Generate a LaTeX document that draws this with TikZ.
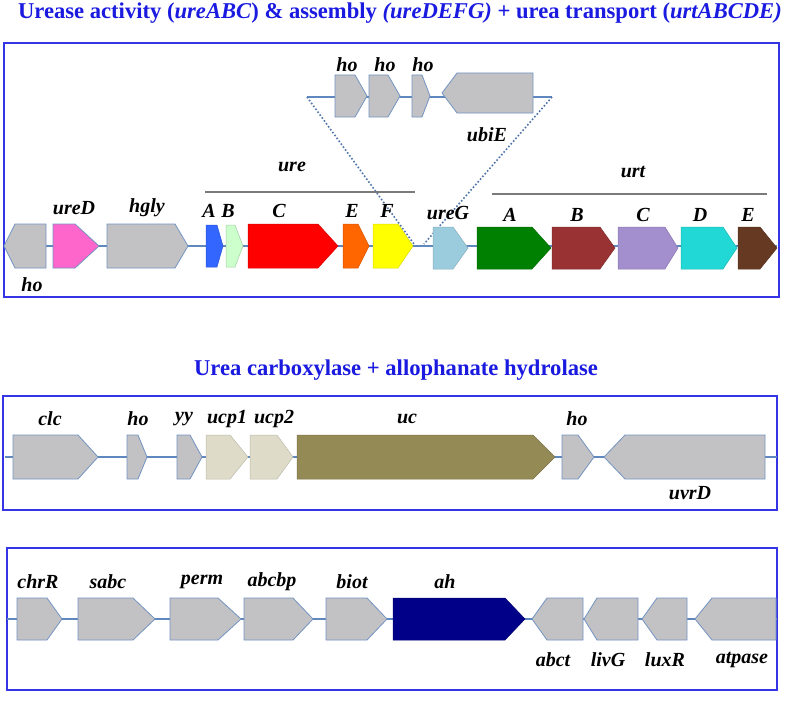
\documentclass[tikz,border=0pt]{standalone}
\usepackage{fontspec}
\setmainfont{Liberation Serif}
\definecolor{boxblue}{HTML}{3535E6}
\definecolor{titleblue}{HTML}{1A1AE0}
\definecolor{spine}{HTML}{5F88BE}
\definecolor{gedge}{HTML}{7393C2}
\definecolor{ggray}{HTML}{C2C2C4}
\definecolor{dotc}{HTML}{4F74AA}
\definecolor{brk}{HTML}{7A7A7A}
\definecolor{cpink}{HTML}{FF66CC}
\definecolor{cblueA}{HTML}{3366FF}
\definecolor{cgreenB}{HTML}{CCFFCC}
\definecolor{credC}{HTML}{FF0000}
\definecolor{corE}{HTML}{FF6600}
\definecolor{cyelF}{HTML}{FFFF00}
\definecolor{cureG}{HTML}{9BCCDE}
\definecolor{curtA}{HTML}{008000}
\definecolor{curtB}{HTML}{993333}
\definecolor{curtC}{HTML}{A38ECE}
\definecolor{curtD}{HTML}{22D8D6}
\definecolor{curtE}{HTML}{663A22}
\definecolor{cucp}{HTML}{DEDBC8}
\definecolor{cuc}{HTML}{938A55}
\definecolor{cah}{HTML}{000088}
\newcommand{\geneR}[6]{\path[#6] ({#1},{#4-#5}) -- ({#2},{#4-#5}) -- ({#3},{#4}) -- ({#2},{#4+#5}) -- ({#1},{#4+#5}) -- cycle;}
\newcommand{\geneL}[6]{\path[#6] ({#1},{#4}) -- ({#2},{#4-#5}) -- ({#3},{#4-#5}) -- ({#3},{#4+#5}) -- ({#2},{#4+#5}) -- cycle;}
\tikzset{
  gbox/.style={draw=boxblue, line width=1.6pt},
  spineline/.style={draw=spine, line width=1.6pt},
  grey/.style={fill=ggray, draw=gedge, line width=0.8pt},
  col/.style={fill=#1, draw=#1!85!black, line width=0.5pt},
  lab/.style={font=\fontsize{20}{20}\selectfont\bfseries\itshape, inner sep=0pt},
  ttl/.style={font=\fontsize{22.6}{22.6}\selectfont\bfseries, text=titleblue, inner sep=0pt},
  dotl/.style={draw=dotc, line width=1.6pt, dotted},
  brkline/.style={draw=brk, line width=1.6pt},
}
\begin{document}
\begin{tikzpicture}[x=1pt, y=-1pt]
\useasboundingbox (0,0) rectangle (787,701);
\fill[white] (0,0) rectangle (787,701);
% titles
\node[ttl] (t1) at (400,13) {Urease activity (\textit{ureABC}) \& assembly \textit{(ureDEFG)} + urea transport (\textit{urtABCDE)}};
\node[ttl] (t2) at (396,370) {Urea carboxylase + allophanate hydrolase};
% boxes
\draw[gbox] (4,43) rectangle (779,297);
\draw[gbox] (3,396) rectangle (777,510);
\draw[gbox] (7,548) rectangle (777,690);
% ---------- box 1 ----------
\coordinate (s1a) at (4,246); \coordinate (s1b) at (777,246);
\draw[spineline] (s1a) -- (s1b);
\coordinate (s0a) at (307,97); \coordinate (s0b) at (552,97);
\draw[spineline] (s0a) -- (s0b);
\coordinate (d1) at (414,244); \coordinate (d2) at (424,244);
\draw[dotl] (s0a) -- (d1);
\draw[dotl] (s0b) -- (d2);
\geneL{4}{15}{46}{246}{22}{grey}
\geneR{53}{75}{99}{246}{22}{fill=cpink, draw=gedge, line width=0.8pt}
\geneR{107}{175}{188}{246}{22}{grey}
\geneR{206}{217}{223}{246}{21}{col=cblueA}
\geneR{226}{235}{243}{246}{21}{fill=cgreenB, draw=cgreenB!80!black, line width=0.5pt}
\geneR{248}{318}{338}{246}{22}{col=credC}
\geneR{343}{358}{369}{246}{22}{col=corE}
\geneR{373}{398}{413}{246}{22}{col=cyelF}
\geneR{433}{453}{468}{248}{21}{col=cureG}
\geneR{477}{532}{551}{248}{21}{col=curtA}
\geneR{552}{600}{615}{248}{21}{col=curtB}
\geneR{618}{665}{678}{248}{21}{col=curtC}
\geneR{681}{723}{737}{248}{21}{col=curtD}
\geneR{738}{760}{777}{248}{21}{col=curtE}
% inset
\geneR{335}{355}{367}{96}{21}{grey}
\geneR{369}{388}{400}{96}{21}{grey}
\geneR{412}{422}{430}{96}{21}{grey}
\geneL{442}{457}{533}{93}{20}{grey}
% brackets
\coordinate (b1a) at (205,192); \coordinate (b1b) at (415,192);
\draw[brkline] (b1a) -- (b1b);
\coordinate (b2a) at (492,194); \coordinate (b2b) at (767,194);
\draw[brkline] (b2a) -- (b2b);
\node[lab] (l_ure) at (292,167) {ure};
\node[lab] (l_urt) at (633,172) {urt};
% labels box1
\node[lab] (l_ho1) at (32,285) {ho};
\node[lab] (l_ureD) at (74,208) {ureD};
\node[lab] (l_hgly) at (147,208) {hgly};
\node[lab] (l_A) at (209,211) {A};
\node[lab] (l_B) at (228,211) {B};
\node[lab] (l_C) at (279,211) {C};
\node[lab] (l_E) at (352,211) {E};
\node[lab] (l_F) at (387,211) {F};
\node[lab] (l_ureG) at (448,213) {ureG};
\node[lab] (l_tA) at (510,215) {A};
\node[lab] (l_tB) at (577,215) {B};
\node[lab] (l_tC) at (643,215) {C};
\node[lab] (l_tD) at (700,215) {D};
\node[lab] (l_tE) at (748,215) {E};
\node[lab] (l_ih1) at (347,65) {ho};
\node[lab] (l_ih2) at (385,65) {ho};
\node[lab] (l_ih3) at (423,65) {ho};
\node[lab] (l_ubiE) at (487,135) {ubiE};
% ---------- box 2 ----------
\coordinate (s2a) at (5,457); \coordinate (s2b) at (777,457);
\draw[spineline] (s2a) -- (s2b);
\geneR{13}{78}{98}{457}{22}{grey}
\geneR{127}{138}{147}{457}{22}{grey}
\geneR{177}{190}{202}{457}{22}{grey}
\geneR{206}{230}{248}{457}{22}{col=cucp}
\geneR{250}{277}{293}{457}{22}{col=cucp}
\geneR{297}{533}{555}{457}{22}{col=cuc}
\geneR{562}{578}{594}{457}{22}{grey}
\geneL{604}{625}{765}{457}{22}{grey}
\node[lab] (l_clc) at (50,419) {clc};
\node[lab] (l_ho2) at (138,419) {ho};
\node[lab] (l_yy) at (184,419) {yy};
\node[lab] (l_ucp1) at (227,419) {ucp1};
\node[lab] (l_ucp2) at (274,419) {ucp2};
\node[lab] (l_uc) at (407,419) {uc};
\node[lab] (l_ho3) at (577,419) {ho};
\node[lab] (l_uvrD) at (690,493) {uvrD};
% ---------- box 3 ----------
\coordinate (s3a) at (7,619); \coordinate (s3b) at (777,619);
\draw[spineline] (s3a) -- (s3b);
\geneR{17}{47}{62}{619}{21}{grey}
\geneR{78}{133}{155}{619}{21}{grey}
\geneR{170}{218}{241}{619}{21}{grey}
\geneR{244}{293}{313}{619}{21}{grey}
\geneR{326}{367}{387}{619}{21}{grey}
\geneR{393}{505}{525}{619}{21}{col=cah}
\geneL{532}{547}{583}{619}{21}{grey}
\geneL{584}{597}{638}{619}{21}{grey}
\geneL{642}{657}{687}{619}{21}{grey}
\geneL{695}{712}{776}{619}{21}{grey}
\node[lab] (l_chrR) at (38,582) {chrR};
\node[lab] (l_sabc) at (108,582) {sabc};
\node[lab] (l_perm) at (202,582) {perm};
\node[lab] (l_abcbp) at (272,582) {abcbp};
\node[lab] (l_biot) at (352,582) {biot};
\node[lab] (l_ah) at (445,582) {ah};
\node[lab] (l_abct) at (553,660) {abct};
\node[lab] (l_livG) at (608,660) {livG};
\node[lab] (l_luxR) at (665,660) {luxR};
\node[lab] (l_atpase) at (742,660) {atpase};
\end{tikzpicture}
\end{document}
